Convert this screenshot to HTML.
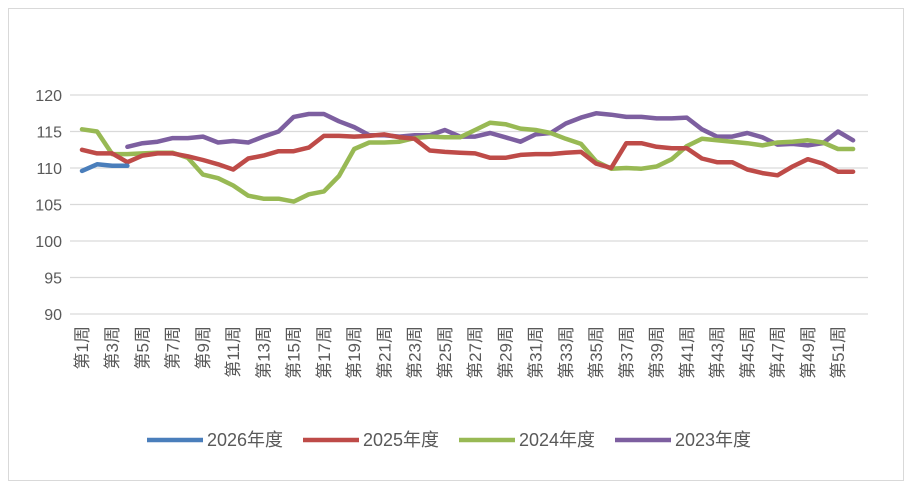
<!DOCTYPE html>
<html><head><meta charset="utf-8"><style>
body{margin:0;background:#fff;}
svg{display:block;font-family:"Liberation Sans","Noto Sans CJK SC",sans-serif;}
</style></head><body>
<svg id="chart" width="912" height="487">
<rect x="8.5" y="8.5" width="895" height="472" fill="#fff" stroke="#d9d9d9"/>
<g id="grid"></g><g id="ylab"></g><g id="xlab"></g><g id="lines"></g><g id="legend"></g>
</svg>
<script>
const weeks = Array.from({length:52},(_,i)=>'第'+(i+1)+'周');
const yTicks = [90,95,100,105,110,115,120];
const s2026 = [109.6,110.5,110.3,110.3];
const s2025 = [112.5,112.0,112.0,110.8,111.7,112.0,112.0,111.6,111.1,110.5,109.8,111.3,111.7,112.3,112.3,112.8,114.4,114.4,114.3,114.4,114.6,114.2,114.0,112.4,112.2,112.1,112.0,111.4,111.4,111.8,111.9,111.9,112.1,112.2,110.6,110.0,113.4,113.4,112.9,112.7,112.7,111.3,110.8,110.8,109.8,109.3,109.0,110.2,111.2,110.6,109.5,109.5];
const s2024 = [115.3,115.0,111.9,111.9,112.0,112.1,112.1,111.4,109.1,108.6,107.6,106.2,105.8,105.8,105.4,106.4,106.8,108.9,112.6,113.5,113.5,113.6,114.1,114.3,114.2,114.2,115.2,116.2,116.0,115.4,115.2,114.8,114.0,113.3,110.9,109.9,110.0,109.9,110.2,111.2,113.0,114.0,113.8,113.6,113.4,113.1,113.5,113.6,113.8,113.5,112.6,112.6];
const s2023 = [null,null,null,112.9,113.4,113.6,114.1,114.1,114.3,113.5,113.7,113.5,114.3,115.0,117.0,117.4,117.4,116.4,115.6,114.5,114.5,114.3,114.5,114.5,115.2,114.3,114.3,114.8,114.2,113.6,114.6,114.8,116.1,116.9,117.5,117.3,117.0,117.0,116.8,116.8,116.9,115.3,114.3,114.3,114.8,114.2,113.2,113.3,113.1,113.4,115.0,113.8];
const names = ['2026年度','2025年度','2024年度','2023年度'];
const colors = ['#4a7ebb','#be4b48','#98b954','#7d5fa0'];
const series = [s2026,s2025,s2024,s2023];
const NS='http://www.w3.org/2000/svg';
const X = w => 82 + w*15.12;
const Y = v => 314 - (v-90)*7.3;
function mk(tag,attrs,parent){const e=document.createElementNS(NS,tag);for(const k in attrs)e.setAttribute(k,attrs[k]);parent.appendChild(e);return e;}
const grid=document.getElementById('grid'), ylab=document.getElementById('ylab');
yTicks.forEach(t=>{
  const l=mk('line',{x1:70,x2:868,y1:Y(t),y2:Y(t),stroke:'#d9d9d9','stroke-width':1.3},grid);
  
  
  const tx=mk('text',{x:62,y:Y(t)+6,'text-anchor':'end','font-size':16,fill:'#595959'},ylab);
  tx.textContent=t;
  
  
});
const xlab=document.getElementById('xlab');
weeks.forEach((w,i)=>{
  if(i%2) return;
  const x=X(i)+6, y=326;
  const tx=mk('text',{x:x,y:y,'text-anchor':'end','font-size':17,fill:'#595959',transform:`rotate(-90 ${x} ${y})`},xlab);
  tx.textContent=w;
  
  
});
const lines=document.getElementById('lines');
[3,2,1,0].forEach(k=>{
  const d=[];let pen=false;
  series[k].forEach((v,i)=>{if(v==null){pen=false;return;}d.push((pen?'L':'M')+X(i).toFixed(1)+' '+Y(v).toFixed(1));pen=true;});
  const p=mk('path',{d:d.join(' '),fill:'none',stroke:colors[k],'stroke-width':4.5,'stroke-linejoin':'round','stroke-linecap':'round'},lines);
  
  
});
const legend=document.getElementById('legend');
const lx=[147,303,459,615];
names.forEach((n,k)=>{
  const g=mk('g',{},legend);
  
  
  mk('line',{x1:lx[k],x2:lx[k]+56,y1:440,y2:440,stroke:colors[k],'stroke-width':4.5},g);
  const t=mk('text',{x:lx[k]+60,y:446,'font-size':18,fill:'#595959'},g);
  t.textContent=n;
});
</script>
</body></html>
